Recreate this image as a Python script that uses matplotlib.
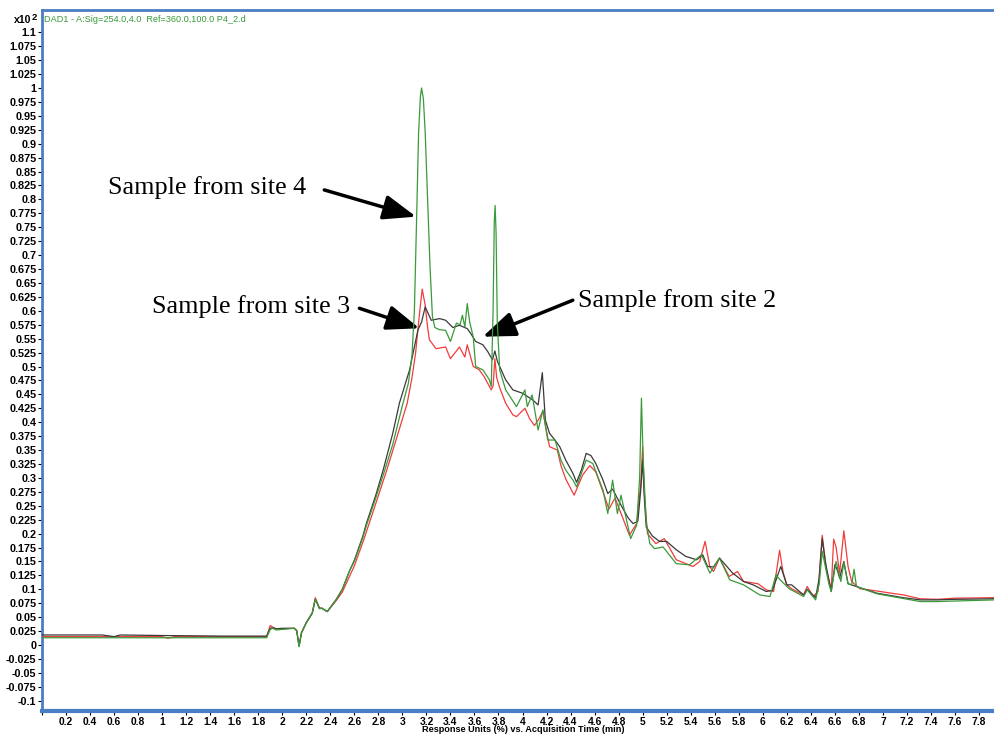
import matplotlib
matplotlib.use("Agg")
import matplotlib.pyplot as plt
from matplotlib.ticker import FixedLocator, FuncFormatter

# ---------------- data ----------------
t_site2 = [0, 0.5, 0.6, 0.65, 1.0, 1.5, 1.87, 1.9, 1.92, 1.95, 2.0, 2.1, 2.12, 2.14, 2.16, 2.2,
           2.25, 2.275, 2.31, 2.33, 2.375, 2.45, 2.5, 2.56, 2.6, 2.67, 2.70, 2.78, 2.84, 2.92,
           2.975, 3.06, 3.13, 3.16, 3.19, 3.24, 3.31, 3.36, 3.42, 3.475, 3.54, 3.57, 3.61, 3.67,
           3.71, 3.75, 3.77, 3.79, 3.81, 3.86, 3.92, 4.0, 4.085, 4.13, 4.165, 4.19, 4.225, 4.27,
           4.31, 4.36, 4.42, 4.45, 4.49, 4.53, 4.57, 4.61, 4.67, 4.71, 4.75, 4.81, 4.88, 4.92,
           4.96, 4.985, 5.0, 5.015, 5.03, 5.08, 5.14, 5.2, 5.28, 5.36, 5.45, 5.5, 5.54, 5.59,
           5.64, 5.75, 5.84, 5.92, 6.03, 6.08, 6.15, 6.2, 6.24, 6.34, 6.37, 6.44, 6.47, 6.495,
           6.52, 6.57, 6.6, 6.62, 6.64, 6.675, 6.71, 6.78, 6.95, 7.17, 7.31, 7.45, 7.6, 7.93]
y_site2 = [0.018, 0.018, 0.015, 0.018, 0.017, 0.016, 0.016, 0.030, 0.031, 0.029, 0.030, 0.030,
           0.026, -0.002, 0.022, 0.040, 0.057, 0.082, 0.066, 0.066, 0.060, 0.082, 0.100, 0.133,
           0.152, 0.195, 0.218, 0.270, 0.314, 0.380, 0.434, 0.494, 0.566, 0.580, 0.607, 0.583,
           0.586, 0.583, 0.570, 0.574, 0.568, 0.559, 0.545, 0.539, 0.527, 0.512, 0.528, 0.510,
           0.500, 0.476, 0.458, 0.452, 0.440, 0.431, 0.489, 0.404, 0.380, 0.368, 0.356, 0.332,
           0.308, 0.292, 0.314, 0.344, 0.340, 0.326, 0.296, 0.272, 0.280, 0.255, 0.228, 0.218,
           0.222, 0.280, 0.332, 0.260, 0.212, 0.196, 0.186, 0.186, 0.171, 0.159, 0.153, 0.162,
           0.141, 0.140, 0.156, 0.129, 0.114, 0.108, 0.096, 0.098, 0.141, 0.108, 0.108, 0.090,
           0.100, 0.085, 0.120, 0.191, 0.150, 0.096, 0.144, 0.135, 0.120, 0.150, 0.110, 0.105,
           0.093, 0.085, 0.081, 0.081, 0.082, 0.083]

t_site3 = [0, 1.0, 1.05, 1.1, 1.87, 1.9, 1.92, 1.95, 2.1, 2.12, 2.14, 2.16, 2.2, 2.25, 2.275,
           2.31, 2.33, 2.375, 2.45, 2.5, 2.6, 2.68, 2.78, 2.87, 2.95, 3.04, 3.08, 3.11, 3.14,
           3.165, 3.19, 3.21, 3.225, 3.28, 3.36, 3.40, 3.475, 3.52, 3.54, 3.59, 3.64, 3.68, 3.74,
           3.755, 3.77, 3.785, 3.81, 3.86, 3.92, 3.95, 4.02, 4.06, 4.1, 4.14, 4.17, 4.19, 4.225,
           4.29, 4.32, 4.36, 4.43, 4.5, 4.56, 4.61, 4.67, 4.72, 4.77, 4.81, 4.89, 4.95, 4.985,
           5.0, 5.015, 5.04, 5.11, 5.18, 5.28, 5.42, 5.475, 5.52, 5.56, 5.59, 5.64, 5.72, 5.79,
           5.84, 5.96, 6.03, 6.09, 6.14, 6.17, 6.2, 6.24, 6.34, 6.37, 6.42, 6.46, 6.495, 6.53,
           6.57, 6.59, 6.61, 6.64, 6.675, 6.71, 6.74, 6.81, 6.95, 7.1, 7.17, 7.31, 7.45, 7.6, 7.93]
y_site3 = [0.015, 0.015, 0.012, 0.015, 0.015, 0.035, 0.032, 0.029, 0.030, 0.026, -0.001, 0.022,
           0.040, 0.058, 0.085, 0.066, 0.066, 0.060, 0.080, 0.095, 0.142, 0.190, 0.255, 0.314,
           0.370, 0.434, 0.480, 0.524, 0.590, 0.639, 0.610, 0.570, 0.548, 0.532, 0.535, 0.514,
           0.535, 0.517, 0.539, 0.500, 0.494, 0.482, 0.458, 0.465, 0.514, 0.480, 0.462, 0.434,
           0.413, 0.410, 0.425, 0.406, 0.394, 0.407, 0.420, 0.395, 0.356, 0.350, 0.322, 0.298,
           0.269, 0.305, 0.322, 0.311, 0.275, 0.244, 0.264, 0.242, 0.197, 0.218, 0.290, 0.356,
           0.270, 0.200, 0.182, 0.191, 0.153, 0.141, 0.150, 0.186, 0.140, 0.132, 0.156, 0.123,
           0.132, 0.114, 0.110, 0.099, 0.096, 0.170, 0.130, 0.108, 0.101, 0.090, 0.105, 0.087,
           0.096, 0.197, 0.135, 0.099, 0.190, 0.176, 0.129, 0.205, 0.141, 0.114, 0.101, 0.097,
           0.092, 0.090, 0.083, 0.082, 0.084, 0.085]

t_site4 = [0, 1.87, 1.9, 1.92, 1.95, 2.1, 2.12, 2.14, 2.16, 2.2, 2.25, 2.275, 2.31, 2.33, 2.375,
           2.45, 2.5, 2.56, 2.6, 2.67, 2.70, 2.78, 2.84, 2.92, 3.0, 3.05, 3.08, 3.10, 3.12, 3.135,
           3.15, 3.16, 3.175, 3.19, 3.21, 3.23, 3.25, 3.27, 3.31, 3.36, 3.40, 3.45, 3.48, 3.50,
           3.52, 3.54, 3.56, 3.59, 3.61, 3.67, 3.725, 3.74, 3.755, 3.765, 3.772, 3.78, 3.79, 3.81,
           3.86, 3.95, 4.02, 4.04, 4.08, 4.13, 4.17, 4.21, 4.27, 4.32, 4.36, 4.42, 4.45, 4.53,
           4.585, 4.67, 4.71, 4.75, 4.79, 4.82, 4.9, 4.95, 4.975, 4.99, 5.005, 5.03, 5.06, 5.10,
           5.17, 5.28, 5.39, 5.49, 5.56, 5.64, 5.725, 5.84, 5.975, 6.06, 6.11, 6.14, 6.22, 6.34,
           6.37, 6.44, 6.47, 6.495, 6.55, 6.57, 6.61, 6.65, 6.675, 6.71, 6.74, 6.76, 6.78, 6.95,
           7.31, 7.45, 7.93]
y_site4 = [0.013, 0.013, 0.028, 0.030, 0.027, 0.030, 0.026, -0.003, 0.022, 0.040, 0.058, 0.082,
           0.065, 0.066, 0.060, 0.082, 0.100, 0.133, 0.150, 0.192, 0.214, 0.265, 0.305, 0.360,
           0.430, 0.470, 0.520, 0.600, 0.780, 0.920, 0.985, 1.000, 0.980, 0.920, 0.800, 0.680,
           0.590, 0.570, 0.566, 0.565, 0.545, 0.578, 0.575, 0.592, 0.571, 0.613, 0.580, 0.553,
           0.500, 0.494, 0.476, 0.464, 0.600, 0.760, 0.789, 0.740, 0.580, 0.494, 0.458, 0.428,
           0.458, 0.428, 0.449, 0.386, 0.422, 0.368, 0.368, 0.332, 0.314, 0.296, 0.284, 0.332,
           0.326, 0.278, 0.236, 0.296, 0.236, 0.269, 0.191, 0.215, 0.300, 0.443, 0.330, 0.220,
           0.182, 0.173, 0.176, 0.146, 0.144, 0.162, 0.129, 0.156, 0.117, 0.108, 0.090, 0.087,
           0.126, 0.118, 0.101, 0.087, 0.099, 0.081, 0.110, 0.168, 0.110, 0.096, 0.150, 0.114,
           0.148, 0.110, 0.108, 0.136, 0.105, 0.092, 0.078, 0.078, 0.081]

labels = ["Sample from site 4", "Sample from site 3", "Sample from site 2"]
title_text = "DAD1 - A:Sig=254.0,4.0  Ref=360.0,100.0 P4_2.d"
xlabel_text = "Response Units (%) vs. Acquisition Time (min)"

# ---------------- figure ----------------
W, H = 994, 735
fig = plt.figure(figsize=(W / 100, H / 100), dpi=100)
ax = fig.add_axes([42 / W, 1 - 711 / H, (W - 42) / W, (711 - 10) / H])

blue = "#4a7ec4"
ax.plot(t_site3, y_site3, color="#f03c3c", lw=0.9, zorder=3)
ax.plot(t_site2, y_site2, color="#3a3a3a", lw=0.9, zorder=4)
ax.plot(t_site4, y_site4, color="#3a9a3a", lw=0.9, zorder=5)

ax.set_xlim(0, (W - 43) / 120)
ax.set_ylim(-(711 - 645) / 557, (645 - 10) / 557)

# ticks
yt = [round(-0.1 + 0.025 * i, 3) for i in range(49)]
ax.yaxis.set_major_locator(FixedLocator(yt))
ax.yaxis.set_major_formatter(FuncFormatter(lambda v, p: f"{round(v, 3) + 0:g}"))
xt = [round(0.2 * i, 1) for i in range(40)]
ax.xaxis.set_major_locator(FixedLocator(xt))
ax.xaxis.set_major_formatter(FuncFormatter(lambda v, p: "" if abs(v) < 1e-9 else f"{round(v, 1):g}"))
ax.tick_params(axis="y", direction="out", length=3, width=0.8, pad=1,
               labelsize=7.8, colors="black")
ax.tick_params(axis="x", direction="out", length=3, width=0.8, pad=1,
               labelsize=7.4, colors="black")
for lab in ax.get_xticklabels() + ax.get_yticklabels():
    lab.set_fontweight("bold")
    lab.set_family("Liberation Sans")

for s in ["left", "top"]:
    ax.spines[s].set_color(blue)
    ax.spines[s].set_linewidth(2)
ax.spines["bottom"].set_color(blue)
ax.spines["bottom"].set_linewidth(3)
ax.spines["right"].set_visible(False)

# header texts
fig.text(14 / W, 1 - 20 / H, "x10", fontsize=7.6, fontweight="bold",
         family="Liberation Sans", va="center", ha="left")
fig.text(32 / W, 1 - 17 / H, "2", fontsize=6.8, fontweight="bold",
         family="Liberation Sans", va="center", ha="left")
fig.text(44 / W, 1 - 20 / H, title_text, fontsize=6.6, color="#3a9a3a",
         family="Liberation Sans", va="center", ha="left")
fig.text(523 / W, 0.5 / H, xlabel_text, fontsize=6.6, fontweight="bold",
         family="Liberation Sans", va="bottom", ha="center")

# annotations with arrows
akw = dict(arrowstyle="-|>,head_length=1.0,head_width=0.38", lw=2.5, color="black",
           shrinkA=0, shrinkB=0, mutation_scale=20)
tfont = dict(family="Liberation Serif", fontsize=18.8, va="center", ha="center")
ax.text(1.375, 0.8205, labels[0], **tfont)
ax.annotate("", xy=(3.114, 0.769), xytext=(2.35, 0.817), arrowprops=akw)
ax.text(1.742, 0.607, labels[1], **tfont)
ax.annotate("", xy=(3.142, 0.5686), xytext=(2.642, 0.6045), arrowprops=akw)
ax.text(5.29, 0.6176, labels[2], **tfont)
ax.annotate("", xy=(3.669, 0.5535), xytext=(4.419, 0.619), arrowprops=akw)

fig.savefig("out.png", dpi=100)
